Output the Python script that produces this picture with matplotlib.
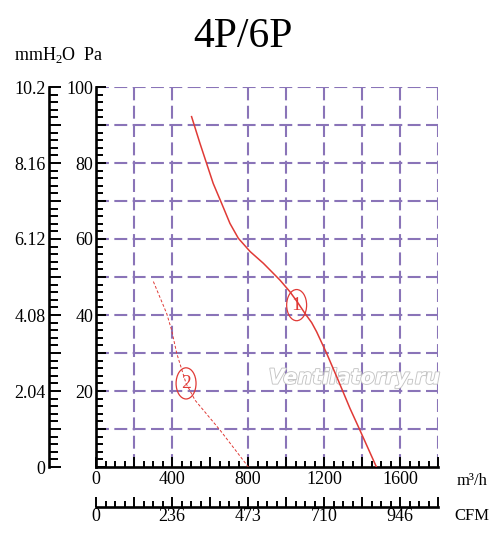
import numpy as np
import matplotlib
matplotlib.use("Agg")
import matplotlib.pyplot as plt
from matplotlib.patches import Ellipse
from matplotlib.ticker import MultipleLocator, FixedLocator, FixedFormatter
import matplotlib.patheffects as pe

plt.rcParams['font.family'] = ['Liberation Serif', 'DejaVu Serif']
plt.rcParams['mathtext.fontset'] = 'custom'
plt.rcParams['mathtext.rm'] = 'Liberation Serif'

# curve 1 (solid) - flow m3/h vs static pressure Pa
flow1 = [503, 547, 582, 617, 661, 705, 749, 811, 881, 968, 1021, 1060, 1100, 1135, 1161, 1214, 1275, 1337, 1389, 1476]
pres1 = [92.2, 85.2, 79.9, 74.6, 69.4, 64.1, 60.2, 56.7, 53.6, 49.2, 46.1, 43.4, 40.4, 38.0, 35.6, 29.9, 22.8, 15.4, 9.7, 0.0]

# curve 2 (dashed)
flow2 = [302, 372, 398, 425, 474, 521, 653, 802]
pres2 = [48.8, 40.4, 36.0, 29.9, 22.0, 17.6, 9.7, 0.0]

# curve label positions
labels = ['1', '2']
label_flow = [1056, 474]
label_pres = [42.6, 22.0]

# axes ranges / ticks
pa_labels = ['', '20', '40', '60', '80', '100']
mm_labels = ['0', '2.04', '4.08', '6.12', '8.16', '10.2']
flow_ticks = [0, 400, 800, 1200, 1600]
flow_labels = ['0', '400', '800', '1200', '1600']
cfm_labels = ['0', '236', '473', '710', '946']
grid_x = [200, 400, 800, 1000, 1200, 1400, 1600, 1800]
grid_y = [10, 20, 30, 40, 50, 60, 70, 80, 90, 100]

W, H = 500, 546
fig = plt.figure(figsize=(W / 100, H / 100), dpi=100)

def box(l, t, r, b):
    return [l / W, 1 - b / H, (r - l) / W, (b - t) / H]

grid_col = '#8a74b8'
red = '#e03a36'
tick_font = 13
major_x = list(range(0, 1801, 200))

def x_formatter(names):
    return FixedFormatter([names[flow_ticks.index(v)] if v in flow_ticks else '' for v in major_x])

# main chart
ax = fig.add_axes(box(96, 87, 438, 467))
ax.set_xlim(0, 1800)
ax.set_ylim(0, 100)
for s in ['top', 'right']:
    ax.spines[s].set_visible(False)
for s in ['left', 'bottom']:
    ax.spines[s].set_linewidth(1.9)

for gx in grid_x:
    ax.axvline(gx, color=grid_col, lw=1.5, dashes=(6.2, 2.6), zorder=1)
for gy in grid_y:
    ax.axhline(gy, color=grid_col, lw=1.5, dashes=(6.2, 2.6), zorder=1)

ax.xaxis.set_major_locator(FixedLocator(major_x))
ax.xaxis.set_minor_locator(FixedLocator(range(0, 1801, 50)))
ax.xaxis.set_major_formatter(x_formatter(flow_labels))
ax.yaxis.set_major_locator(FixedLocator(range(0, 101, 10)))
ax.yaxis.set_minor_locator(FixedLocator(range(0, 101, 2)))
ax.yaxis.set_major_formatter(FixedFormatter(
    [pa_labels[i // 2] if i % 2 == 0 else '' for i in range(11)]))
ax.tick_params(axis='x', which='major', direction='in', length=7.2, width=1.4, pad=3, labelsize=tick_font)
ax.tick_params(axis='x', which='minor', direction='in', length=4.3, width=1.4)
ax.tick_params(axis='y', which='major', direction='in', length=7.2, width=1.4, pad=2, labelsize=tick_font)
ax.tick_params(axis='y', which='minor', direction='in', length=5, width=1.4)

ax.plot(flow1, pres1, color=red, lw=1.1, zorder=3)
ax.plot(flow2, pres2, color=red, lw=0.7, linestyle=(0, (3, 2)), zorder=3)
for lab, fx, py in zip(labels, label_flow, label_pres):
    ax.add_patch(Ellipse((fx, py), 105, 8.2, facecolor='none', edgecolor=red, lw=0.9, zorder=4))
    ax.text(fx, py, lab, color=red, fontsize=14, ha='center', va='center', zorder=5)

ax.text(1360, 23.5, 'Ventilatorry.ru', fontsize=15, style='italic', weight='bold',
        family='DejaVu Sans', color='white', ha='center', va='center', zorder=2,
        path_effects=[pe.withStroke(linewidth=1.3, foreground='#c4c4c4')])

# mmH2O scale
ax_mm = fig.add_axes(box(49, 87, 60, 467))
ax_mm.set_facecolor('none')
ax_mm.set_ylim(0, 10.2)
for s in ['top', 'right', 'bottom']:
    ax_mm.spines[s].set_visible(False)
ax_mm.spines['left'].set_linewidth(1.9)
ax_mm.set_xticks([])
ax_mm.yaxis.set_major_locator(FixedLocator(np.arange(11) * 1.02))
ax_mm.yaxis.set_minor_locator(FixedLocator(np.arange(51) * 0.204))
ax_mm.yaxis.set_major_formatter(FixedFormatter(
    [mm_labels[i // 2] if i % 2 == 0 else '' for i in range(11)]))
ax_mm.tick_params(axis='y', which='major', direction='in', length=8.6, width=1.4, pad=2.5, labelsize=tick_font)
ax_mm.tick_params(axis='y', which='minor', direction='in', length=6.5, width=1.4)

# CFM scale
ax_cfm = fig.add_axes(box(96, 497, 438, 507))
ax_cfm.set_facecolor('none')
ax_cfm.set_xlim(0, 1800)
for s in ['top', 'right', 'left']:
    ax_cfm.spines[s].set_visible(False)
ax_cfm.spines['bottom'].set_linewidth(1.9)
ax_cfm.set_yticks([])
ax_cfm.xaxis.set_major_locator(FixedLocator(major_x))
ax_cfm.xaxis.set_minor_locator(FixedLocator(range(0, 1801, 50)))
ax_cfm.xaxis.set_major_formatter(x_formatter(cfm_labels))
ax_cfm.tick_params(axis='x', which='major', direction='in', length=7.2, width=1.4, pad=1, labelsize=tick_font)
ax_cfm.tick_params(axis='x', which='minor', direction='in', length=4.3, width=1.4)

# texts
fig.text(243 / W, 1 - 37 / H, '4P/6P', fontsize=30, ha='center', va='center')
fig.text(14 / W, 1 - 55 / H, r'mmH$_2$O  Pa', fontsize=13, ha='left', va='center')
fig.text(472 / W, 1 - 481 / H, 'm³/h', fontsize=12, ha='center', va='center')
fig.text(472 / W, 1 - 516 / H, 'CFM', fontsize=12, ha='center', va='center')

fig.savefig('out.png', dpi=100)
